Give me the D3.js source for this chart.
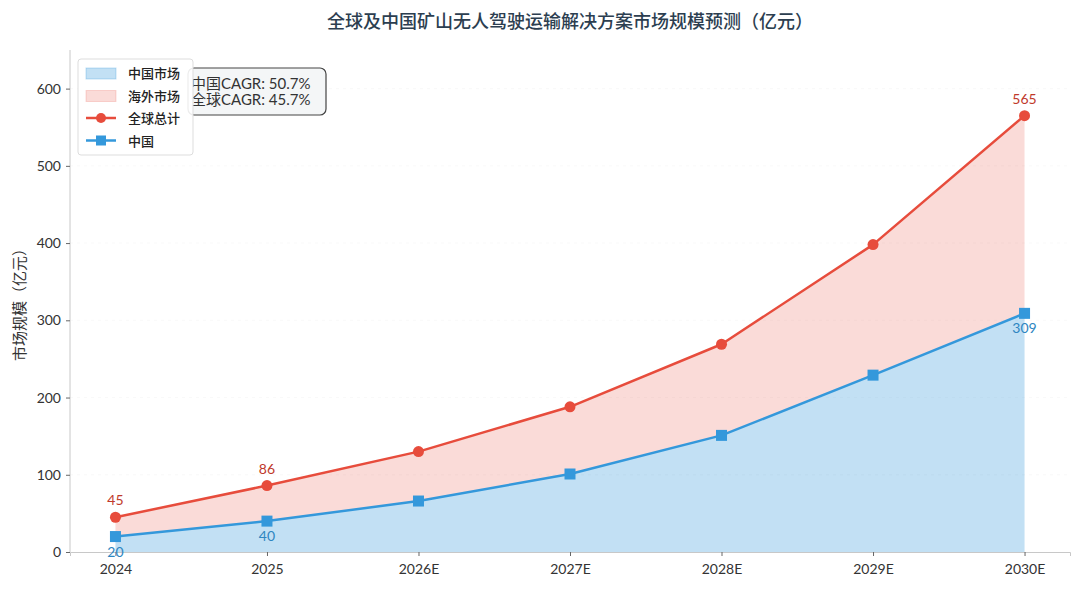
<!DOCTYPE html>
<html>
<head>
<meta charset="utf-8">
<title>矿山无人驾驶运输市场规模预测</title>
<style>
  body { margin: 0; background: #fff; }
  svg text { font-family: "Lato", "Noto Sans CJK SC", sans-serif; }
</style>
</head>
<body>
<div id="container"></div>
<script src="https://d3js.org/d3.v7.min.js"></script>
<script>

// data
const years = ["2024", "2025", "2026E", "2027E", "2028E", "2029E", "2030E"];
const globalTotal = [45, 86, 130, 188, 269, 398, 565];
const china = [20, 40, 66, 101, 151, 229, 309];
const yTicks = [0, 100, 200, 300, 400, 500, 600];
const labelled = ["2024", "2025", "2030E"];
const cagrLines = ["中国CAGR: 50.7%", "全球CAGR: 45.7%"];

const width = 1080;
const height = 589;
const margin = {top: 50, right: 10, bottom: 37, left: 70};

const red = "#e74c3c";
const blue = "#3498db";

const rows = years.map((y, i) => ({year: y, total: globalTotal[i], china: china[i]}));

const xScale = d3.scaleLinear()
  .domain([-0.3, years.length - 1 + 0.3])
  .range([margin.left, width - margin.right]);

const yScale = d3.scaleLinear()
  .domain([0, 650])
  .range([height - margin.bottom, margin.top]);

const svg = d3.select("#container")
  .append("svg")
  .attr("width", width)
  .attr("height", height);

// faint grid
svg.append("g")
  .selectAll("line")
  .data(yTicks.slice(1))
  .join("line")
    .attr("x1", margin.left)
    .attr("x2", width - margin.right)
    .attr("y1", d => yScale(d))
    .attr("y2", d => yScale(d))
    .style("stroke", "#f2f2f2")
    .style("stroke-dasharray", "3,4")
    .style("stroke-width", 0.5);

// areas
const areaChina = d3.area()
  .x((d, i) => xScale(i))
  .y0(yScale(0))
  .y1(d => yScale(d.china));

const areaOverseas = d3.area()
  .x((d, i) => xScale(i))
  .y0(d => yScale(d.china))
  .y1(d => yScale(d.total));

svg.append("path")
  .attr("d", areaChina(rows))
  .style("fill", blue)
  .style("fill-opacity", 0.3);

svg.append("path")
  .attr("d", areaOverseas(rows))
  .style("fill", red)
  .style("fill-opacity", 0.2);

// axes
const xAxis = d3.axisBottom(xScale)
  .tickValues(d3.range(years.length))
  .tickFormat(i => years[i])
  .tickSize(4)
  .tickPadding(8);

const yAxis = d3.axisLeft(yScale)
  .tickValues(yTicks)
  .tickSize(4)
  .tickPadding(5);

const gx = svg.append("g")
  .attr("transform", `translate(0, ${yScale(0)})`)
  .call(xAxis);

const gy = svg.append("g")
  .attr("transform", `translate(${margin.left}, 0)`)
  .call(yAxis);

[gx, gy].forEach(g => {
  g.select(".domain").style("stroke", "#c8c8c8");
  g.selectAll(".tick line").style("stroke", "#666");
  g.selectAll(".tick text")
    .style("font-size", "14px")
    .style("fill", "#333");
});
gy.select(".domain").attr("d", `M0,${yScale(650)}V${yScale(0)}`);

// lines
const lineTotal = d3.line().x((d, i) => xScale(i)).y(d => yScale(d.total));
const lineChina = d3.line().x((d, i) => xScale(i)).y(d => yScale(d.china));

svg.append("path")
  .attr("d", lineTotal(rows))
  .style("fill", "none")
  .style("stroke", red)
  .style("stroke-width", 2.5)
  .style("stroke-linejoin", "round");

svg.append("path")
  .attr("d", lineChina(rows))
  .style("fill", "none")
  .style("stroke", blue)
  .style("stroke-width", 2.5)
  .style("stroke-linejoin", "round");

svg.append("g")
  .selectAll("circle")
  .data(rows)
  .join("circle")
    .attr("cx", (d, i) => xScale(i))
    .attr("cy", d => yScale(d.total))
    .attr("r", 5.5)
    .style("fill", red);

svg.append("g")
  .selectAll("rect")
  .data(rows)
  .join("rect")
    .attr("x", (d, i) => xScale(i) - 5.5)
    .attr("y", d => yScale(d.china) - 5.5)
    .attr("width", 11)
    .attr("height", 11)
    .style("fill", blue);

// value labels
const shown = rows.map((d, i) => ({...d, i})).filter(d => labelled.includes(d.year));

svg.append("g")
  .selectAll("text")
  .data(shown)
  .join("text")
    .attr("x", d => xScale(d.i))
    .attr("y", d => yScale(d.total) - 12)
    .attr("text-anchor", "middle")
    .style("font-size", "14px")
    .style("fill", "#c0392b")
    .text(d => d.total);

svg.append("g")
  .selectAll("text")
  .data(shown)
  .join("text")
    .attr("x", d => xScale(d.i))
    .attr("y", d => yScale(d.china) + 20)
    .attr("text-anchor", "middle")
    .style("font-size", "14px")
    .style("fill", "#2e86c1")
    .text(d => d.china);

// title
svg.append("text")
  .attr("x", (margin.left + width - margin.right) / 2)
  .attr("y", 28)
  .attr("text-anchor", "middle")
  .style("font-size", "18px")
  .style("font-weight", 500)
  .style("fill", "#2c3e50")
  .text("全球及中国矿山无人驾驶运输解决方案市场规模预测（亿元）");

// y label
svg.append("text")
  .attr("transform", `translate(25, ${(margin.top + height - margin.bottom) / 2}) rotate(-90)`)
  .attr("text-anchor", "middle")
  .style("font-size", "15px")
  .style("fill", "#333")
  .text("市场规模（亿元）");

// CAGR box
const cagr = svg.append("g").attr("transform", "translate(188, 68)");
cagr.append("rect")
  .attr("width", 138)
  .attr("height", 47)
  .attr("rx", 6)
  .style("fill", "#f4f6f7")
  .style("stroke", "#444")
  .style("stroke-width", 1.2);
cagr.selectAll("text")
  .data(cagrLines)
  .join("text")
    .attr("x", 3)
    .attr("y", (d, i) => 21 + i * 16)
    .style("font-size", "15px")
    .style("fill", "#333")
    .text(d => d);

// legend
const legendItems = [
  {label: "中国市场", kind: "patch", color: blue, opacity: 0.3},
  {label: "海外市场", kind: "patch", color: red, opacity: 0.2},
  {label: "全球总计", kind: "circle", color: red},
  {label: "中国", kind: "square", color: blue}
];

const legend = svg.append("g").attr("transform", "translate(78, 59)");
legend.append("rect")
  .attr("width", 115)
  .attr("height", 96)
  .attr("rx", 3)
  .style("fill", "#fff")
  .style("fill-opacity", 0.9)
  .style("stroke", "#ddd");

const li = legend.selectAll(".item")
  .data(legendItems)
  .join("g")
    .attr("class", "item")
    .attr("transform", (d, i) => `translate(8, ${14 + i * 22.5})`);

li.filter(d => d.kind === "patch").append("rect")
  .attr("x", 0)
  .attr("y", -5)
  .attr("width", 30)
  .attr("height", 11)
  .style("fill", d => d.color)
  .style("fill-opacity", d => d.opacity)
  .style("stroke", d => d.color)
  .style("stroke-opacity", d => d.opacity);

li.filter(d => d.kind !== "patch").append("line")
  .attr("x1", 0)
  .attr("x2", 30)
  .style("stroke", d => d.color)
  .style("stroke-width", 2.5);

li.filter(d => d.kind === "circle").append("circle")
  .attr("cx", 15)
  .attr("r", 5)
  .style("fill", d => d.color);

li.filter(d => d.kind === "square").append("rect")
  .attr("x", 10)
  .attr("y", -5)
  .attr("width", 10)
  .attr("height", 10)
  .style("fill", d => d.color);

li.append("text")
  .attr("x", 42)
  .attr("y", 5)
  .style("font-size", "13px")
  .style("font-weight", 500)
  .style("fill", "#222")
  .text(d => d.label);

</script>
</body>
</html>
